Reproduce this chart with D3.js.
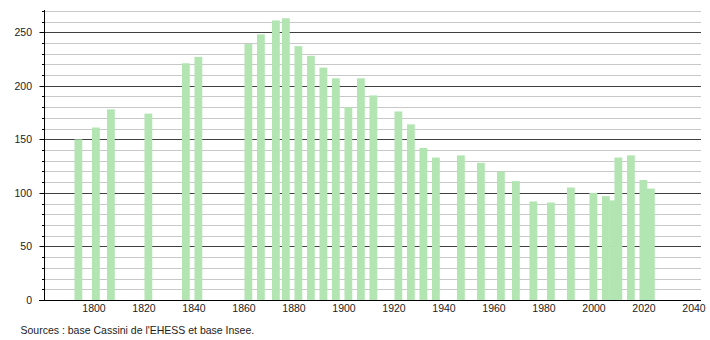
<!DOCTYPE html>
<html>
<head>
<meta charset="utf-8">
<script src="https://cdn.jsdelivr.net/npm/d3@7"></script>
<style>
  html, body { margin: 0; padding: 0; background: #fff; }
  svg { display: block; font-family: "Liberation Sans", Arial, sans-serif; }
</style>
</head>
<body>
<svg id="chart" width="710" height="340"></svg>
<script>
// ---- data ----
const years = [1793, 1800, 1806, 1821, 1836, 1841, 1861, 1866, 1872, 1876, 1881, 1886, 1891, 1896,
               1901, 1906, 1911, 1921, 1926, 1931, 1936, 1946, 1954, 1962, 1968, 1975, 1982, 1990,
               1999, 2004, 2007, 2009, 2014, 2019, 2022];
const population = [150, 161, 178, 174, 221, 227, 239, 248, 261, 263, 237, 228, 217, 207,
                    180, 207, 191, 176, 164, 142, 133, 135, 128, 120, 111, 92, 91, 105,
                    100, 97, 93, 133, 135, 112, 104];
const xTickLabels = [1800, 1820, 1840, 1860, 1880, 1900, 1920, 1940, 1960, 1980, 2000, 2020, 2040];
const yTickLabels = [0, 50, 100, 150, 200, 250];
const sourceText = "Sources : base Cassini de l'EHESS et base Insee.";

// ---- layout ----
const svg = d3.select("#chart");
const mLeft = 44, mRight = 701, mBottom = 300, mTop = 10;
const x = d3.scaleLinear().domain([1780, 2042.8]).range([mLeft, mRight]);
const y = d3.scaleLinear().domain([0, 270]).range([mBottom, 10.8]);
const minorTicks = d3.range(0, 271, 10);

// grid lines
svg.append("g").selectAll("line").data(minorTicks).join("line")
  .attr("x1", mLeft).attr("x2", mRight)
  .attr("y1", d => Math.round(y(d)) + 0.5).attr("y2", d => Math.round(y(d)) + 0.5)
  .attr("stroke", d => d % 50 === 0 ? "#404040" : "#c8c8c8")
  .attr("stroke-width", 1);

// bars
const barW = 7.8;
const offset = 0.75;
svg.append("g").selectAll("rect").data(years).join("rect")
  .attr("x", (d) => x(d + offset) - barW / 2)
  .attr("width", barW)
  .attr("y", (d, i) => y(population[i]))
  .attr("height", (d, i) => y(0) - y(population[i]))
  .attr("fill", "#b2e5b2");

// y axis
const yg = svg.append("g").attr("transform", `translate(${mLeft + 0.5},0)`);
yg.append("line").attr("x1", 0).attr("x2", 0).attr("y1", mTop).attr("y2", mBottom + 0.5)
  .attr("stroke", "#000").attr("stroke-width", 1);
yg.selectAll("line.tk").data(minorTicks).join("line").attr("class", "tk")
  .attr("x1", d => d % 50 === 0 ? -5 : -2.5).attr("x2", 0)
  .attr("y1", d => Math.round(y(d)) + 0.5).attr("y2", d => Math.round(y(d)) + 0.5)
  .attr("stroke", "#000");
yg.selectAll("text").data(yTickLabels).join("text")
  .attr("x", -12.5).attr("y", d => y(d)).attr("dy", "0.36em")
  .attr("text-anchor", "end").attr("font-size", "10.5px").attr("fill", "#222")
  .text(d => d);

// x axis
svg.append("line").attr("x1", 39).attr("x2", mRight).attr("y1", mBottom + 0.5).attr("y2", mBottom + 0.5)
  .attr("stroke", "#000");
svg.append("g").selectAll("text").data(xTickLabels).join("text")
  .attr("x", d => x(d)).attr("y", 312)
  .attr("text-anchor", "middle").attr("font-size", "10.5px").attr("fill", "#222")
  .text(d => d);

// source
svg.append("text").attr("x", 20.5).attr("y", 334)
  .attr("font-size", "10.5px").attr("fill", "#222")
  .text(sourceText);
</script>
</body>
</html>
